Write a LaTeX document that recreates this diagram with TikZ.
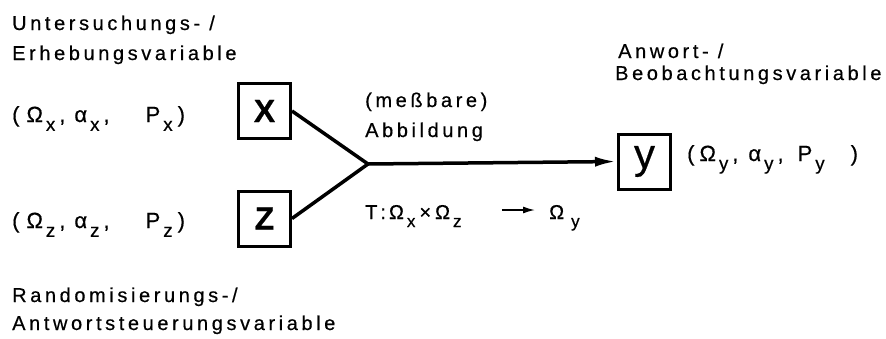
\documentclass[tikz,border=0pt]{standalone}
\usepackage{fontspec}
\usepackage{graphicx}
\setmainfont{Liberation Sans}[LetterSpace=18, FakeBold=0.5]
\usetikzlibrary{arrows.meta}
\newcommand{\sub}[1]{\hspace{3pt}\raisebox{-0.4em}{\scalebox{0.85}{#1}}}

\begin{document}
\begin{tikzpicture}[x=1pt, y=-1pt, >={Latex[length=22pt, width=10pt]},
  lbl/.style={anchor=base west, inner sep=0pt, font=\fontsize{20}{24}\selectfont},
  space/.style={lbl, font=\fontsize{22}{24}\selectfont},
  var/.style={draw, line width=3pt, minimum width=52pt, minimum height=55pt, inner sep=0pt,
    font=\fontsize{32}{32}\selectfont\bfseries},
  conn/.style={line width=3.5pt, line join=miter}]
  \useasboundingbox (0,0) rectangle (886,338);
  % variables
  \node[var] (X) at (264.5,111) {X};
  \node[var] (Z) at (264.5,218.5) {Z};
  \node[var, font=\fontsize{42}{42}\selectfont] (Y) at (644.5,161.5) {y};
  \coordinate (join) at (368,164);
  \draw[conn] (X.east) -- (join) -- (Z.east);
  \draw[conn, ->] (join) -- (Y.west);
  % labels left
  \node[lbl] (xname1) at (12,30) {Untersuchungs- /};
  \node[lbl] (xname2) at (12,60) {Erhebungsvariable};
  \node[space] (xspace) at (12,122) {(\hspace{7pt}Ω\sub{x}\hspace{4pt},\hspace{9pt}α\sub{x}\hspace{4pt},\hspace{36pt}P\sub{x}\hspace{5pt})};
  \node[space] (zspace) at (12,228) {(\hspace{7pt}Ω\sub{z}\hspace{4pt},\hspace{9pt}α\sub{z}\hspace{4pt},\hspace{36pt}P\sub{z}\hspace{5pt})};
  \node[lbl] (zname1) at (12,302) {Randomisierungs-/};
  \node[lbl] (zname2) at (12,330) {Antwortsteuerungsvariable};
  % mapping
  \node[lbl] (map1) at (365,107) {(meßbare)};
  \node[lbl] (map2) at (365,137) {Abbildung};
  \node[lbl] (mapT) at (365,219) {T\hspace{3pt}:\hspace{3pt}Ω\sub{x}\hspace{4pt}×\hspace{4pt}Ω\sub{z}};
  \node[lbl] (mapY) at (549,219) {Ω\hspace{4pt}\sub{y}};
  \draw[line width=1.5pt, -{Latex[length=12pt, width=7pt]}, shorten <=40pt, shorten >=14pt]
    ([yshift=9pt]mapT.base east) -- ([yshift=9pt]mapY.base west);
  % labels right
  \node[lbl] (yname1) at (618,58) {Anwort- /};
  \node[lbl] (yname2) at (615,80) {Beobachtungsvariable};
  \node[space] (yspace) at (687,161) {(\hspace{5pt}Ω\sub{y}\hspace{4pt},\hspace{10pt}α\sub{y}\hspace{4pt},\hspace{14pt}P\sub{y}\hspace{26pt})};
\end{tikzpicture}
\end{document}
